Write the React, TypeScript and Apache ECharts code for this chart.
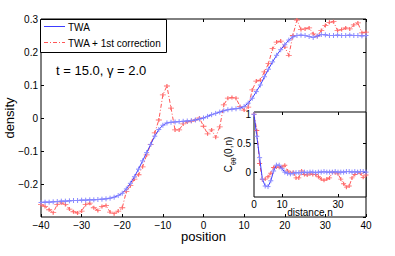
import React, { useEffect, useRef } from "react";
import * as echarts from "echarts";

// ---------- data ----------
const positions = [
  -40, -39, -38, -37, -36, -35, -34, -33, -32, -31, -30, -29, -28, -27, -26, -25, -24, -23, -22, -21,
  -20, -19, -18, -17, -16, -15, -14, -13, -12, -11, -10, -9, -8, -7, -6, -5, -4, -3, -2, -1,
  0, 1, 2, 3, 4, 5, 6, 7, 8, 9, 10, 11, 12, 13, 14, 15, 16, 17, 18, 19,
  20, 21, 22, 23, 24, 25, 26, 27, 28, 29, 30, 31, 32, 33, 34, 35, 36, 37, 38, 39, 40,
];
const twa = [
  -0.256, -0.255, -0.255, -0.254, -0.253, -0.252, -0.252, -0.251, -0.25, -0.25, -0.249, -0.249, -0.248, -0.248, -0.247, -0.246, -0.245, -0.243, -0.24, -0.235,
  -0.228, -0.215, -0.198, -0.178, -0.155, -0.13, -0.105, -0.08, -0.055, -0.035, -0.022, -0.015, -0.013, -0.012, -0.011, -0.01, -0.009, -0.008, -0.006, -0.003,
  0.0, 0.005, 0.01, 0.014, 0.018, 0.022, 0.025, 0.027, 0.028, 0.03, 0.035, 0.045, 0.06, 0.08, 0.1, 0.125, 0.148, 0.17, 0.19, 0.207,
  0.222, 0.236, 0.246, 0.25, 0.251, 0.25, 0.247, 0.244, 0.248, 0.253, 0.252, 0.25, 0.25, 0.251, 0.25, 0.25, 0.251, 0.25, 0.25, 0.249, 0.25,
];
const twaCorr = [
  -0.262, -0.268, -0.278, -0.287, -0.262, -0.257, -0.262, -0.276, -0.284, -0.288, -0.282, -0.262, -0.258, -0.272, -0.28, -0.268, -0.265, -0.285, -0.29, -0.282,
  -0.272, -0.223, -0.205, -0.185, -0.172, -0.148, -0.112, -0.08, -0.045, -0.006, 0.07, 0.097, 0.03, -0.036, -0.036, -0.018, -0.012, -0.01, -0.006, 0.0,
  -0.025, -0.048, -0.036, -0.058, -0.027, 0.04, 0.06, 0.062, 0.06, 0.035, 0.024, 0.033, 0.085, 0.112, 0.115, 0.14, 0.165, 0.21, 0.23, 0.233,
  0.215, 0.19, 0.25, 0.297, 0.268, 0.27, 0.273, 0.255, 0.248, 0.265, 0.28, 0.29, 0.292, 0.265, 0.268, 0.273, 0.27, 0.282, 0.288, 0.258, 0.26,
];

const distances = [
  0, 1, 2, 3, 4, 5, 6, 7, 8, 9, 10, 11, 12, 13, 14, 15, 16, 17, 18, 19, 20,
  21, 22, 23, 24, 25, 26, 27, 28, 29, 30, 31, 32, 33, 34, 35, 36, 37, 38, 39, 40,
];
const corrTwa = [
  1.0, 0.62, 0.25, -0.12, -0.24, -0.25, -0.15, 0.02, 0.12, 0.12, 0.06, 0.0, -0.02, -0.03, -0.02, -0.01, -0.01, -0.01, 0.0, -0.01, 0.0,
  0.0, -0.01, 0.0, 0.0, 0.01, 0.0, 0.0, 0.0, 0.01, 0.0, 0.0, 0.0, 0.01, 0.01, 0.0, 0.01, 0.0, 0.01, 0.01, 0.0,
];
const corrCorr = [
  1.0, 0.72, 0.15, -0.13, -0.12, -0.08, -0.02, 0.08, 0.09, 0.085, 0.09, 0.12, 0.02, -0.01, 0.0, -0.1, -0.1, 0.02, -0.04, -0.05, -0.03,
  -0.04, -0.04, -0.08, -0.12, -0.14, -0.12, -0.1, 0.0, -0.01, -0.03, -0.12, -0.2, -0.26, -0.24, -0.1, -0.04, 0.0, -0.02, -0.09, -0.05,
];

const mainXTicks = [-40, -30, -20, -10, 0, 10, 20, 30, 40];
const insetXLabels = [0, 10, 30];
const insetYLabels = [0, 0.5, 1];

const seriesNames = ["TWA", "TWA + 1st correction"];
const annotation = "t = 15.0, \u03b3 = 2.0";

// ---------- styling ----------
const FONT = "Liberation Sans, Arial, Helvetica, sans-serif";
const BLUE = "#3c3cff";
const BLUE_MARK = "#8a8aff";
const RED = "#ff2a2a";
const RED_MARK = "#ff6a6a";
const PLUS = "path://M5,0L5,10M0,5L10,5";
const DASHDOT = [4, 2, 1, 2];

const fmt = (v: number) => {
  const r = Math.round(v * 10) / 10;
  return String(r).replace("-", "\u2212");
};

export default function App() {
  const ref = useRef<HTMLDivElement>(null);

  useEffect(() => {
    if (!ref.current) return;
    const chart = echarts.init(ref.current, undefined, { renderer: "svg" });

    const tickStyle = { show: true, inside: true, length: 3, lineStyle: { color: "#000", width: 1 } };
    const labelStyle = { color: "#000", fontSize: 10, fontFamily: FONT };
    const noLine = { show: false, onZero: false };

    const option: any = {
      animation: false,
      backgroundColor: "#fff",
      grid: [
        {
          left: 41, top: 19, width: 325, height: 198,
          show: true, borderColor: "#000", borderWidth: 1, backgroundColor: "transparent",
          outerBoundsMode: "none",
        },
        {
          left: 254, top: 112, width: 112, height: 85,
          show: true, borderColor: "#000", borderWidth: 1, backgroundColor: "#fff",
          z: 10, outerBoundsMode: "none",
        },
      ],
      xAxis: [
        {
          type: "value", gridIndex: 0, position: "bottom", min: -40, max: 40, interval: 10,
          axisLine: noLine, axisTick: tickStyle, splitLine: { show: false },
          axisLabel: { ...labelStyle, margin: 3, formatter: fmt, customValues: mainXTicks },
          name: "position", nameLocation: "middle", nameGap: 13, nameMoveOverlap: false,
          nameTextStyle: { color: "#000", fontSize: 13, fontFamily: FONT },
        },
        {
          type: "value", gridIndex: 0, position: "top", min: -40, max: 40, interval: 10,
          axisLine: noLine, axisTick: tickStyle, splitLine: { show: false },
          axisLabel: { show: false },
        },
        {
          type: "value", gridIndex: 1, position: "bottom", min: 0, max: 40, z: 20,
          axisLine: noLine, splitLine: { show: false },
          axisTick: { ...tickStyle, customValues: [10, 30] },
          axisLabel: { ...labelStyle, margin: 2, customValues: insetXLabels, formatter: fmt },
          name: "distance n", nameLocation: "middle", nameGap: 10, nameMoveOverlap: false,
          nameTextStyle: { color: "#000", fontSize: 10, fontFamily: FONT },
        },
        {
          type: "value", gridIndex: 1, position: "top", min: 0, max: 40, z: 20,
          axisLine: noLine, splitLine: { show: false },
          axisTick: { ...tickStyle, customValues: [10, 30] },
          axisLabel: { show: false },
        },
      ],
      yAxis: [
        {
          type: "value", gridIndex: 0, position: "left", min: -0.3, max: 0.3, interval: 0.1,
          axisLine: noLine, axisTick: tickStyle, splitLine: { show: false },
          axisLabel: { ...labelStyle, margin: 3, formatter: fmt, showMinLabel: false },
          name: "density", nameLocation: "middle", nameGap: 25, nameMoveOverlap: false,
          nameTextStyle: { color: "#000", fontSize: 13, fontFamily: FONT },
        },
        {
          type: "value", gridIndex: 0, position: "right", min: -0.3, max: 0.3, interval: 0.1,
          axisLine: noLine, axisTick: tickStyle, splitLine: { show: false },
          axisLabel: { show: false },
        },
        {
          type: "value", gridIndex: 1, position: "left", min: -0.43, max: 1.04, z: 20,
          axisLine: noLine, splitLine: { show: false },
          axisTick: { ...tickStyle, customValues: [0, 0.5] },
          axisLabel: { ...labelStyle, margin: 3, customValues: insetYLabels, formatter: fmt },
          name: "{c|C}{s|\u03b8\u03b8}{c|(0,n)}", nameLocation: "middle", nameGap: 17, nameMoveOverlap: false,
          nameTextStyle: {
            color: "#000", fontSize: 10, fontFamily: FONT,
            rich: {
              c: { fontSize: 10, fontFamily: FONT, color: "#000", lineHeight: 14, verticalAlign: "top" },
              s: { fontSize: 7, fontFamily: FONT, color: "#000", lineHeight: 14, verticalAlign: "bottom" },
            },
          },
        },
        {
          type: "value", gridIndex: 1, position: "right", min: -0.43, max: 1.04, z: 20,
          axisLine: noLine, splitLine: { show: false },
          axisTick: { ...tickStyle, customValues: [0, 0.5] },
          axisLabel: { show: false },
        },
      ],
      series: [
        {
          name: seriesNames[1], type: "line", xAxisIndex: 0, yAxisIndex: 0,
          data: positions.map((x, i) => [x, twaCorr[i]]),
          symbol: PLUS, symbolSize: [6, 4], showSymbol: true,
          lineStyle: { color: RED, width: 0.8, type: DASHDOT },
          itemStyle: { color: "none", borderColor: RED_MARK, borderWidth: 1 },
          z: 3,
        },
        {
          name: seriesNames[0], type: "line", xAxisIndex: 0, yAxisIndex: 0,
          data: positions.map((x, i) => [x, twa[i]]),
          symbol: PLUS, symbolSize: [5, 5], showSymbol: true,
          lineStyle: { color: BLUE, width: 1 },
          itemStyle: { color: "none", borderColor: BLUE_MARK, borderWidth: 1 },
          z: 4,
        },
        {
          name: seriesNames[1] + " (inset)", type: "line", xAxisIndex: 2, yAxisIndex: 2,
          data: distances.map((n, i) => [n, corrCorr[i]]),
          symbol: PLUS, symbolSize: [5, 4], showSymbol: true,
          lineStyle: { color: RED, width: 0.8, type: DASHDOT },
          itemStyle: { color: "none", borderColor: RED_MARK, borderWidth: 1 },
          z: 30,
        },
        {
          name: seriesNames[0] + " (inset)", type: "line", xAxisIndex: 2, yAxisIndex: 2,
          data: distances.map((n, i) => [n, corrTwa[i]]),
          symbol: PLUS, symbolSize: [5, 5], showSymbol: true,
          lineStyle: { color: BLUE, width: 1 },
          itemStyle: { color: "none", borderColor: BLUE_MARK, borderWidth: 1 },
          z: 31,
        },
      ],
      graphic: [
        {
          type: "rect", z: 100,
          shape: { x: 40.5, y: 19.5, width: 126, height: 33 },
          style: { fill: "#fff", stroke: "#000", lineWidth: 1 },
        },
        {
          type: "line", z: 101,
          shape: { x1: 44, y1: 26.5, x2: 65, y2: 26.5 },
          style: { stroke: BLUE, lineWidth: 1 },
        },
        {
          type: "text", z: 101, x: 68, y: 27,
          style: { text: seriesNames[0], fill: "#000", fontSize: 10, fontFamily: FONT, verticalAlign: "middle" },
        },
        {
          type: "line", z: 101,
          shape: { x1: 44, y1: 42.5, x2: 65, y2: 42.5 },
          style: { stroke: RED, lineWidth: 0.8, lineDash: DASHDOT },
        },
        {
          type: "text", z: 101, x: 68, y: 43,
          style: { text: seriesNames[1], fill: "#000", fontSize: 10, fontFamily: FONT, verticalAlign: "middle" },
        },
        {
          type: "text", z: 101, x: 56, y: 70,
          style: { text: annotation, fill: "#000", fontSize: 13, fontFamily: FONT, verticalAlign: "middle" },
        },
      ],
    };

    chart.setOption(option);
    return () => chart.dispose();
  }, []);

  return (
    <div
      ref={ref}
      style={{ position: "absolute", left: 0, top: 0, width: 395, height: 256 }}
    />
  );
}
